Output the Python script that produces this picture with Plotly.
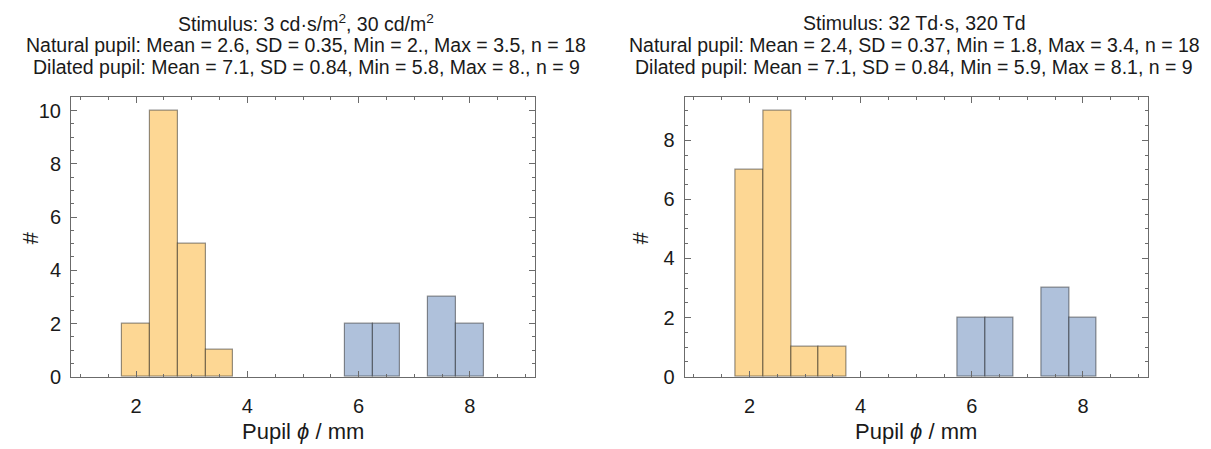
import plotly.graph_objects as go

# Bin layout (mm)
bin_width = 0.5
natural_bin_centers = [2.0, 2.5, 3.0, 3.5]
dilated_bin_centers = [6.0, 6.5, 7.5, 8.0]

# Counts
left_natural = [2, 10, 5, 1]
left_dilated = [2, 2, 3, 2]
right_natural = [7, 9, 1, 1]
right_dilated = [2, 2, 3, 2]

left_title = ["Stimulus: 3 cd·s/m<sup>2</sup>, 30 cd/m<sup>2</sup>",
              "Natural pupil: Mean = 2.6, SD = 0.35, Min = 2., Max = 3.5, n = 18",
              "Dilated pupil: Mean = 7.1, SD = 0.84, Min = 5.8, Max = 8., n = 9"]
right_title = ["Stimulus: 32 Td·s, 320 Td",
               "Natural pupil: Mean = 2.4, SD = 0.37, Min = 1.8, Max = 3.4, n = 18",
               "Dilated pupil: Mean = 7.1, SD = 0.84, Min = 5.9, Max = 8.1, n = 9"]

x_title = "Pupil <i>ϕ</i> / mm"
y_title = "#"

ORANGE = "#FDD794"
BLUE = "#AFC1DB"
EDGE = "rgba(0,0,0,0.42)"
FRAME = "#6b6b6b"
FONT = "Liberation Sans, Arial, sans-serif"
TXT = "#1a1a1a"

W, H = 1211, 449
fig = go.Figure()

def add_bars(xs, ys, color, xa, ya):
    fig.add_trace(go.Bar(x=xs, y=ys, width=bin_width, marker=dict(color=color, line=dict(color=EDGE, width=1.2)),
                         xaxis=xa, yaxis=ya, showlegend=False, hoverinfo="x+y"))

add_bars(natural_bin_centers, left_natural, ORANGE, "x", "y")
add_bars(dilated_bin_centers, left_dilated, BLUE, "x", "y")
add_bars(natural_bin_centers, right_natural, ORANGE, "x2", "y2")
add_bars(dilated_bin_centers, right_dilated, BLUE, "x2", "y2")

py = lambda p: 1 - p / H
px = lambda p: p / W

ydom = [py(378), py(91)]
dom1 = [px(63), px(527)]
dom2 = [px(676.5), px(1140)]

common_x = dict(range=[0.83, 9.17], tick0=0, dtick=2, ticks="inside", ticklen=6, tickcolor=FRAME, tickwidth=1,
                showline=True, linecolor=FRAME, linewidth=1, mirror="allticks", showgrid=False, zeroline=False,
                minor=dict(dtick=0.5, tick0=0, ticks="inside", ticklen=3, tickcolor=FRAME, tickwidth=1),
                ticklabelstandoff=11,
                tickfont=dict(family=FONT, size=20, color=TXT))
common_y = dict(tick0=0, dtick=2, ticks="inside", ticklen=6, tickcolor=FRAME, tickwidth=1,
                showline=True, linecolor=FRAME, linewidth=1, mirror="allticks", showgrid=False, zeroline=False,
                minor=dict(dtick=0.5, tick0=0, ticks="inside", ticklen=3, tickcolor=FRAME, tickwidth=1),
                ticklabelstandoff=5,
                tickfont=dict(family=FONT, size=20, color=TXT))

fig.update_layout(
    width=W, height=H, margin=dict(l=0, r=0, t=0, b=0),
    paper_bgcolor="white", plot_bgcolor="white", bargap=0,
    xaxis=dict(domain=dom1, anchor="y", **common_x),
    yaxis=dict(domain=ydom, anchor="x", range=[0, 10.52], **common_y),
    xaxis2=dict(domain=dom2, anchor="y2", **common_x),
    yaxis2=dict(domain=ydom, anchor="x2", range=[0, 9.47], **common_y),
    font=dict(family=FONT, color=TXT),
)

anns = []
line_y = [15, 38, 60]
for title, dom, cx_px in ((left_title, dom1, 298), (right_title, dom2, 906)):
    cx = px(cx_px)
    for t, yy in zip(title, line_y):
        anns.append(dict(text=t, x=cx, y=py(yy), xref="paper", yref="paper", xanchor="center", yanchor="middle",
                         showarrow=False, font=dict(family=FONT, size=19.5, color=TXT)))
    anns.append(dict(text=x_title, x=(dom[0] + dom[1]) / 2, y=py(434), xref="paper", yref="paper",
                     xanchor="center", yanchor="middle",
                     showarrow=False, font=dict(family=FONT, size=22, color=TXT)))
for xx in (22, 632):
    anns.append(dict(text=y_title, x=px(xx), y=py(236), xref="paper", yref="paper", xanchor="center",
                     yanchor="middle", textangle=-90, showarrow=False, font=dict(family=FONT, size=22, color=TXT)))
fig.update_layout(annotations=anns)

fig.write_html("out.html")
